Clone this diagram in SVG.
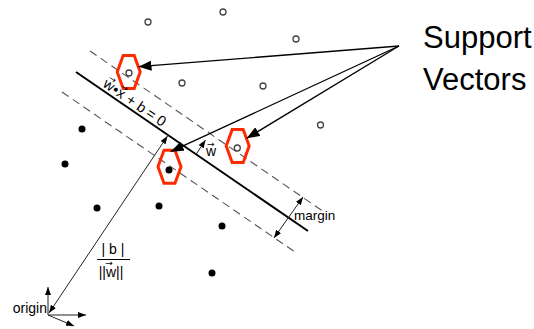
<svg xmlns="http://www.w3.org/2000/svg" width="534" height="329" viewBox="0 0 534 329">
<style>
text{font-family:"Liberation Sans",Arial,sans-serif;fill:#000}
.hol{fill:#fff;stroke:#444;stroke-width:1.3}
.dot{fill:#000}
.hex{fill:none;stroke:#ff2a00;stroke-width:3;stroke-linejoin:miter}
.dash{stroke:#555;stroke-width:1.1;stroke-dasharray:8 5;fill:none}
.thin{stroke:#222;stroke-width:1;fill:none}
.sv{stroke:#000;stroke-width:1.3;fill:none;marker-end:url(#big)}
.acc{font-family:"DejaVu Sans",sans-serif;font-size:9px}
</style>
<defs>
<marker id="big" viewBox="0 0 13 10" refX="13" refY="5" markerWidth="13" markerHeight="10" markerUnits="userSpaceOnUse" orient="auto"><path d="M0,0 L13,5 L0,10 z" fill="#000"/></marker>
<marker id="sm" viewBox="0 0 8 6" refX="8" refY="3" markerWidth="8" markerHeight="6" markerUnits="userSpaceOnUse" orient="auto-start-reverse"><path d="M0,0 L8,3 L0,6 z" fill="#000"/></marker>
<polygon id="hexshape" points="-5.5,-16.5 5.5,-16.5 11.5,0 5.5,16.5 -5.5,16.5 -11.5,0"/>
</defs>

<g id="lines">
<line id="hyperplane" x1="76" y1="72" x2="308" y2="231" stroke="#000" stroke-width="2"/>
<line id="upper-margin" class="dash" x1="90" y1="51" x2="324" y2="212"/>
<line id="lower-margin" class="dash" x1="62" y1="92" x2="295" y2="252"/>
</g>

<g id="points">
<circle class="hol" cx="148" cy="22" r="3"/>
<circle class="hol" cx="223" cy="12" r="3"/>
<circle class="hol" cx="296" cy="39" r="3"/>
<circle class="hol" cx="129" cy="73" r="3"/>
<circle class="hol" cx="182" cy="83" r="3"/>
<circle class="hol" cx="263" cy="86" r="3"/>
<circle class="hol" cx="320.5" cy="125" r="3"/>
<circle class="hol" cx="237.3" cy="148" r="3"/>
<circle class="dot" cx="82" cy="129" r="3.5"/>
<circle class="dot" cx="65" cy="164" r="3.5"/>
<circle class="dot" cx="169" cy="170" r="3.5"/>
<circle class="dot" cx="97" cy="208" r="3.5"/>
<circle class="dot" cx="159" cy="206" r="3.5"/>
<circle class="dot" cx="222" cy="226" r="3.5"/>
<circle class="dot" cx="212" cy="273" r="3.5"/>
</g>

<g id="support-vector-marks">
<use href="#hexshape" class="hex" x="128.7" y="72"/>
<use href="#hexshape" class="hex" x="237.7" y="146"/>
<use href="#hexshape" class="hex" x="169.5" y="166.7"/>
</g>

<g id="connectors">
<line class="sv" x1="399" y1="46" x2="138.5" y2="66.7"/>
<line class="sv" x1="399" y1="46" x2="246.7" y2="138.3"/>
<line class="sv" x1="399" y1="46" x2="170.7" y2="151.7"/>
<line id="distance" class="thin" x1="49" y1="313" x2="167.5" y2="136" marker-start="url(#sm)" marker-end="url(#sm)"/>
<line id="normal" class="thin" x1="196" y1="154.5" x2="205.5" y2="140" marker-end="url(#sm)"/>
<line id="margin-arrow" class="thin" x1="303" y1="197" x2="274" y2="238" marker-start="url(#sm)" marker-end="url(#sm)"/>
<line class="thin" x1="48" y1="315" x2="48" y2="287" marker-end="url(#sm)"/>
<line class="thin" x1="48" y1="315" x2="86" y2="315" marker-end="url(#sm)"/>
<line class="thin" x1="48" y1="315" x2="74" y2="326" marker-end="url(#sm)"/>
</g>

<g id="equation" transform="translate(102,86) rotate(34.4)">
<text font-size="14.5"><tspan x="0">w</tspan><tspan x="11">•</tspan><tspan x="16.5">x</tspan><tspan x="28">+</tspan><tspan x="40.5">b</tspan><tspan x="52">=</tspan><tspan x="64.5">0</tspan></text>
<text class="acc" x="1" y="-8.5">→</text>
<text class="acc" x="15.8" y="-8.5">→</text>
</g>

<g id="w-label">
<text x="206" y="156" font-size="14">w</text>
<text class="acc" x="207" y="146.5">→</text>
</g>

<g id="fraction">
<text x="113" y="254" font-size="14" text-anchor="middle">| b |</text>
<line x1="97" y1="259.5" x2="130" y2="259.5" stroke="#000" stroke-width="1"/>
<text x="111" y="277" font-size="14" text-anchor="middle">||w||</text>
<text class="acc" x="109" y="266" text-anchor="middle">→</text>
</g>

<text id="origin" x="47" y="313" font-size="14" text-anchor="end">origin</text>
<text id="margin" x="294" y="219.5" font-size="13.5">margin</text>

<g id="support-label">
<text x="423" y="48" font-size="31">Support</text>
<text x="423" y="90" font-size="31">Vectors</text>
</g>
</svg>
